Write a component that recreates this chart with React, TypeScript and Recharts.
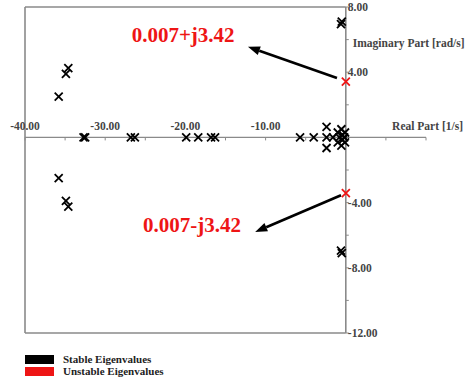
import { ScatterChart, Scatter, XAxis, YAxis, ReferenceLine, ReferenceDot, Legend } from "recharts"

const stableReal = [
  -34.6, -34.6, -34.9, -34.9, -35.8, -35.8, -32.7, -32.5, -26.8, -26.3,
  -19.9, -18.4, -16.8, -16.3, -5.7, -4.0, -2.4, -2.4, -2.4, -1.6,
  -1.0, -1.0, -0.8, -0.55, -0.55, -0.4, -0.4, -0.2, -0.1, -0.1,
  -0.6, -0.6, -0.5, -0.5,
]
const stableImag = [
  4.25, -4.25, 3.9, -3.9, 2.5, -2.5, 0, 0, 0, 0,
  0, 0, 0, 0, 0, 0, 0, 0.65, -0.65, 0,
  0.3, -0.3, 0, 0.5, -0.5, 0.15, -0.15, 0, 0.3, -0.3,
  6.95, -6.95, 7.1, -7.1,
]
const unstableReal = [0.007, 0.007]
const unstableImag = [3.42, -3.42]

const xTicks = [-40, -35, -30, -25, -20, -15, -10, -5, 0, 5, 10]
const xLabels = [-40, -30, -20, -10]
const yTicks = [8, 6, 4, 2, 0, -2, -4, -6, -8, -10, -12]
const yLabels = [8, 4, -4, -8, -12]

// callouts for the unstable pair: arrow tail near the eigenvalue, head near the text
const arrowFrom = [{ x: -1.1, y: 3.64 }, { x: -0.6, y: -3.55 }]
const arrowTo = [{ x: -12.2, y: 5.56 }, { x: -11.3, y: -5.8 }]
const calloutAt = [{ x: -26.7, y: 5.87 }, { x: -25.3, y: -5.79 }]

const FONT = "'Liberation Serif', 'Times New Roman', serif"
const AXIS = "#8a8a8a"
const LABEL = "#444"
const RED = "#ee1515"

const stable = stableReal.map((x, i) => ({ x, y: stableImag[i] }))
const unstable = unstableReal.map((x, i) => ({ x, y: unstableImag[i] }))
const callouts = unstable.map((p) => (p.y >= 0 ? `${p.x}+j${p.y}` : `${p.x}-j${-p.y}`))

const cross = (color: string) => (p: any) => {
  const { cx, cy } = p
  const s = 4
  return (
    <path
      d={`M${cx - s},${cy - s}L${cx + s},${cy + s}M${cx - s},${cy + s}L${cx + s},${cy - s}`}
      stroke={color}
      strokeWidth={1.8}
      fill="none"
    />
  )
}

const arrow = (p: any) => {
  const { x1, y1, x2, y2 } = p
  const ang = Math.atan2(y2 - y1, x2 - x1)
  const len = 12
  const half = 4.5
  const bx = x2 - len * Math.cos(ang)
  const by = y2 - len * Math.sin(ang)
  const nx = -Math.sin(ang) * half
  const ny = Math.cos(ang) * half
  return (
    <g>
      <line x1={x1} y1={y1} x2={bx} y2={by} stroke="#000" strokeWidth={2.6} />
      <polygon points={`${x2},${y2} ${bx + nx},${by + ny} ${bx - nx},${by - ny}`} fill="#000" />
    </g>
  )
}

function LegendBox(props: any) {
  const items = props.payload || []
  return (
    <div style={{ fontFamily: FONT, fontWeight: "bold", fontSize: 11, color: "#222", lineHeight: "12px" }}>
      {items.map((it: any) => (
        <div key={it.value} style={{ display: "flex", alignItems: "center", height: 12 }}>
          <span style={{ display: "inline-block", width: 29, height: 9, background: it.color, marginRight: 9 }} />
          <span>{it.value}</span>
        </div>
      ))}
    </div>
  )
}

export default function App() {
  return (
    <div style={{ position: "absolute", left: 0, top: 0 }}>
      <ScatterChart width={468} height={380} margin={{ top: 7, right: 42, bottom: 47, left: 25 }}>
        <XAxis type="number" dataKey="x" domain={[-40, 10]} allowDataOverflow hide />
        <YAxis type="number" dataKey="y" domain={[-12, 8]} allowDataOverflow hide />

        {/* frame */}
        <ReferenceLine x={-40} stroke={AXIS} strokeWidth={1.6} />
        <ReferenceLine segment={[{ x: -40, y: 8 }, { x: 0, y: 8 }]} stroke={AXIS} strokeWidth={1.6} />
        <ReferenceLine segment={[{ x: -40, y: -12 }, { x: 0, y: -12 }]} stroke={AXIS} strokeWidth={1.6} />

        {/* axes crossing at the origin */}
        <ReferenceLine y={0} stroke={AXIS} strokeWidth={1.3} />
        <ReferenceLine x={0} stroke={AXIS} strokeWidth={1.6} />

        {xTicks.map((v) => (
          <ReferenceDot key={`xt${v}`} x={v} y={0} r={0} ifOverflow="visible"
            shape={(p: any) => <line x1={p.cx} y1={p.cy} x2={p.cx} y2={p.cy + 3} stroke={AXIS} strokeWidth={1} />} />
        ))}
        {xLabels.map((v) => (
          <ReferenceDot key={`xl${v}`} x={v} y={0} r={0} ifOverflow="visible"
            shape={(p: any) => (
              <text x={p.cx} y={p.cy - 7} textAnchor="middle" fontFamily={FONT} fontWeight="bold" fontSize={11.5} fill={LABEL}>
                {v.toFixed(2)}
              </text>
            )} />
        ))}
        {yTicks.map((v) => (
          <ReferenceDot key={`yt${v}`} x={0} y={v} r={0} ifOverflow="visible"
            shape={(p: any) => <line x1={p.cx} y1={p.cy} x2={p.cx + 3} y2={p.cy} stroke={AXIS} strokeWidth={1} />} />
        ))}
        {yLabels.map((v) => (
          <ReferenceDot key={`yl${v}`} x={0} y={v} r={0} ifOverflow="visible"
            shape={(p: any) => (
              <text x={p.cx + 2} y={p.cy} dy={4} textAnchor="start" fontFamily={FONT} fontWeight="bold" fontSize={11.5} fill={LABEL}>
                {v.toFixed(2)}
              </text>
            )} />
        ))}

        <ReferenceDot x={10} y={0} r={0} ifOverflow="visible"
          shape={(p: any) => (
            <text x={p.cx + 37} y={p.cy - 7} textAnchor="end" fontFamily={FONT} fontWeight="bold" fontSize={11.5} fill={LABEL}>
              Real Part [1/s]
            </text>
          )} />
        <ReferenceDot x={0} y={5.8} r={0} ifOverflow="visible"
          shape={(p: any) => (
            <text x={p.cx + 7} y={p.cy} dy={4} textAnchor="start" fontFamily={FONT} fontWeight="bold" fontSize={11.5} fill={LABEL}>
              Imaginary Part [rad/s]
            </text>
          )} />

        {arrowFrom.map((a, i) => (
          <ReferenceLine key={`ar${i}`} segment={[a, arrowTo[i]]} shape={arrow} />
        ))}
        {calloutAt.map((c, i) => (
          <ReferenceDot key={`co${i}`} x={c.x} y={c.y} r={0} ifOverflow="visible"
            shape={(p: any) => (
              <text x={p.cx} y={p.cy} textAnchor="start" fontFamily={FONT} fontWeight="bold" fontSize={21} fill={RED}>
                {callouts[i]}
              </text>
            )} />
        ))}

        <Scatter name="Stable Eigenvalues" data={stable} fill="#000" shape={cross("#000")} isAnimationActive={false} />
        <Scatter name="Unstable Eigenvalues" data={unstable} fill={RED} shape={cross(RED)} isAnimationActive={false} />

        <Legend
          verticalAlign="middle"
          align="center"
          layout="horizontal"
          wrapperStyle={{ position: "absolute", left: 25, top: 353, width: 200 }}
          content={LegendBox}
        />
      </ScatterChart>
    </div>
  )
}
